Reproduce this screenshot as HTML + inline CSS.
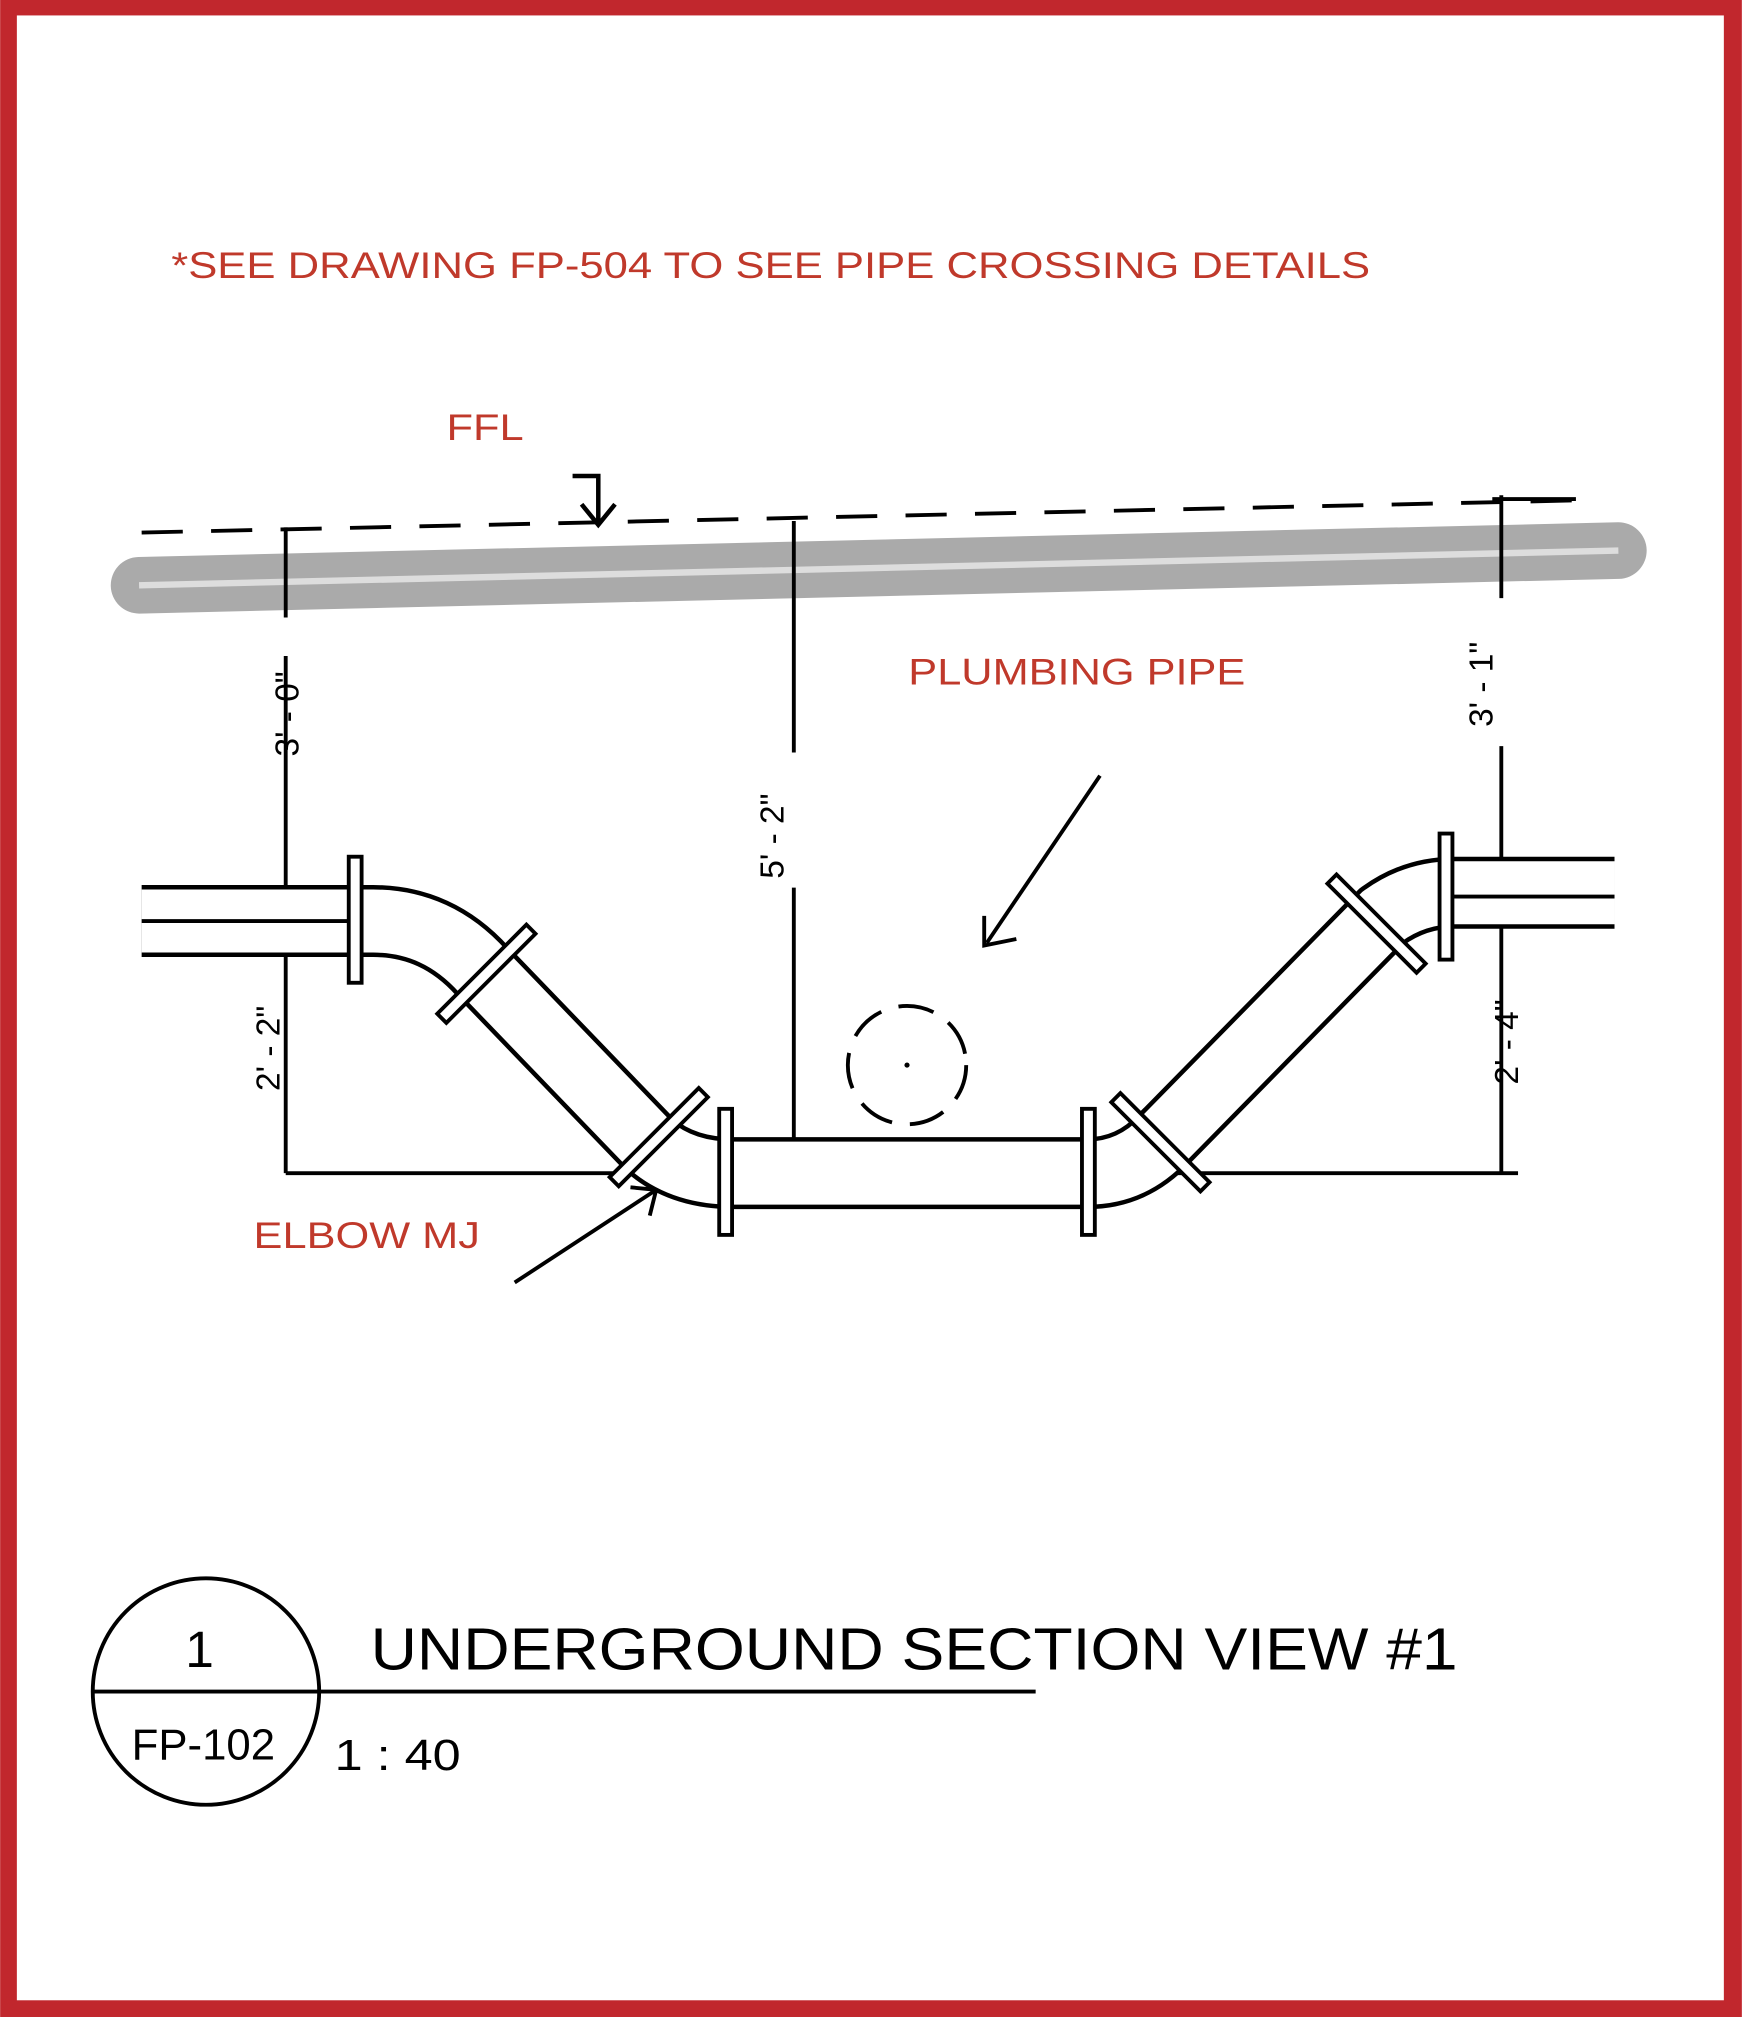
<!DOCTYPE html>
<html><head><style>html,body{margin:0;padding:0;background:#fff}svg{display:block}</style></head>
<body>
<svg width="1742" height="2017" viewBox="0 0 1354 1568" xmlns="http://www.w3.org/2000/svg" font-family="Liberation Sans, Arial, sans-serif">
<rect x="0" y="0" width="1354" height="1568" fill="#c1272d"/>
<rect x="13" y="12" width="1327" height="1543" fill="#fff"/>
<text x="133" y="216" font-size="29" fill="#c0392b" textLength="932" lengthAdjust="spacingAndGlyphs">*SEE DRAWING FP-504 TO SEE PIPE CROSSING DETAILS</text>
<text x="347" y="342" font-size="29" fill="#c0392b" textLength="60" lengthAdjust="spacingAndGlyphs">FFL</text>
<text x="706" y="532" font-size="29" fill="#c0392b" textLength="262" lengthAdjust="spacingAndGlyphs">PLUMBING PIPE</text>
<text x="197" y="970" font-size="29" fill="#c0392b" textLength="176" lengthAdjust="spacingAndGlyphs">ELBOW MJ</text>
<path d="M445,370 H465 V405 M452,392 L465,408 L478,392" fill="none" stroke="#000" stroke-width="3.5"/>
<line x1="110" y1="414" x2="1225" y2="389" stroke="#000" stroke-width="3" stroke-dasharray="32,22"/>
<path d="M108,455 L1258,428" stroke="#aaa" stroke-width="44" stroke-linecap="round"/>
<path d="M108,455 L1258,428" stroke="#ddd" stroke-width="5"/>
<g stroke="#000" stroke-width="3" fill="none">
<line x1="222" y1="410" x2="222" y2="480"/><line x1="222" y1="510" x2="222" y2="912"/>
<line x1="617" y1="405" x2="617" y2="585"/><line x1="617" y1="690" x2="617" y2="888"/>
<line x1="1167" y1="385" x2="1167" y2="465"/><line x1="1167" y1="580" x2="1167" y2="912"/>
<line x1="222" y1="912" x2="1180" y2="912"/>
<line x1="1160" y1="388" x2="1225" y2="388"/>
<line x1="855" y1="603" x2="767" y2="733"/><path d="M765,712 L765,735 L790,730"/>
<line x1="400" y1="997" x2="510" y2="925"/><path d="M490,923 L510,925 L505,945"/>
<circle cx="705" cy="828" r="46" stroke-dasharray="28,14"/>
</g>
<circle cx="705" cy="828" r="2" fill="#000"/>
<g font-size="26" fill="#000">
<text transform="translate(232,555) rotate(-90)" text-anchor="middle">3' - 0"</text>
<text transform="translate(217,815) rotate(-90)" text-anchor="middle">2' - 2"</text>
<text transform="translate(609,650) rotate(-90)" text-anchor="middle">5' - 2"</text>
<text transform="translate(1160,532) rotate(-90)" text-anchor="middle">3' - 1"</text>
<text transform="translate(1180,810) rotate(-90)" text-anchor="middle">2' - 4"</text>
</g>
<path d="M110,716 H290 Q340,716 375,755 L505,890 Q530,912 570,912 H845 Q880,912 905,885 L1075,712 Q1100,694 1130,694 H1255" fill="none" stroke="#000" stroke-width="56"/>
<path d="M110,716 H290 Q340,716 375,755 L505,890 Q530,912 570,912 H845 Q880,912 905,885 L1075,712 Q1100,694 1130,694 H1255" fill="none" stroke="#fff" stroke-width="49"/>
<g stroke="#000" stroke-width="3"><line x1="110" y1="716" x2="275" y2="716"/><line x1="1125" y1="697" x2="1255" y2="697"/></g>
<g fill="#fff" stroke="#000" stroke-width="3">
<rect x="271" y="666" width="10" height="98"/>
<rect x="559" y="862" width="10" height="98"/>
<rect x="841" y="862" width="10" height="98"/>
<rect x="1119" y="648" width="10" height="98"/>
<rect x="-5" y="-49" width="10" height="98" transform="translate(378,757) rotate(45)"/>
<rect x="-5" y="-49" width="10" height="98" transform="translate(512,884) rotate(45)"/>
<rect x="-5" y="-49" width="10" height="98" transform="translate(902,888) rotate(-45)"/>
<rect x="-5" y="-49" width="10" height="98" transform="translate(1070,718) rotate(-45)"/>
</g>
<circle cx="160" cy="1315" r="88" fill="none" stroke="#000" stroke-width="3"/>
<line x1="72" y1="1315" x2="805" y2="1315" stroke="#000" stroke-width="3"/>
<text x="155" y="1296" font-size="40" text-anchor="middle">1</text>
<text x="158" y="1368" font-size="34" text-anchor="middle">FP-102</text>
<text x="288" y="1298" font-size="46" textLength="845" lengthAdjust="spacingAndGlyphs">UNDERGROUND SECTION VIEW #1</text>
<text x="260" y="1376" font-size="34" textLength="98" lengthAdjust="spacingAndGlyphs">1 : 40</text>
</svg>
</body></html>
